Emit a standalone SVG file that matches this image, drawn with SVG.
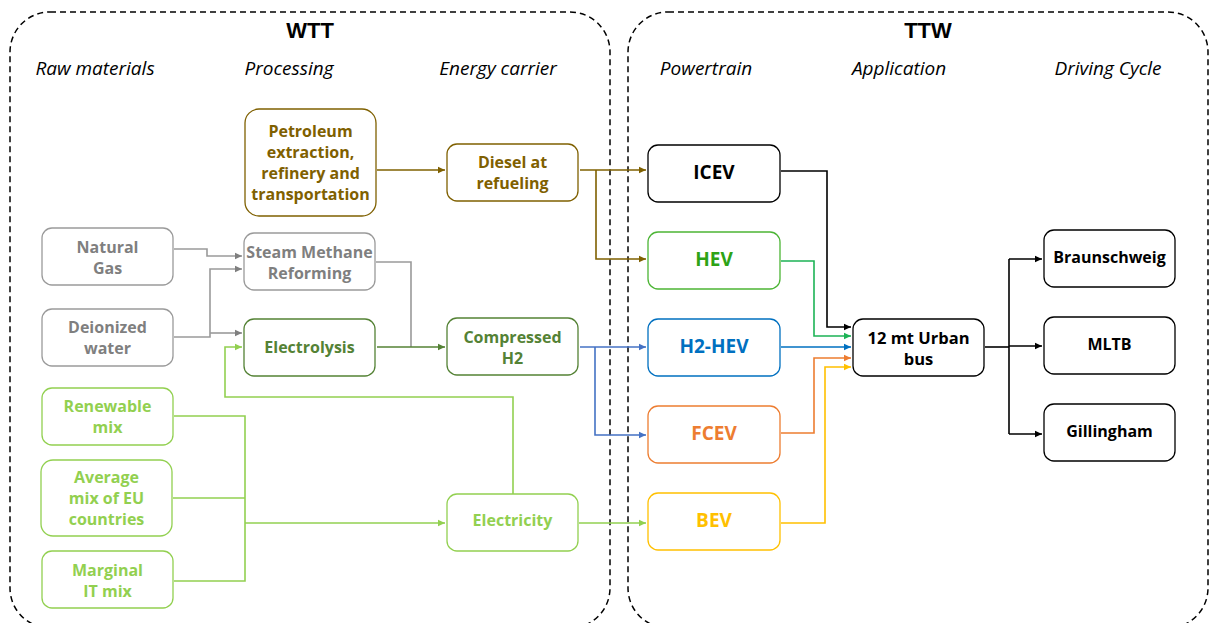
<svg xmlns="http://www.w3.org/2000/svg" width="1210" height="623" viewBox="0 0 1210 623">
<style>
.frame{fill:none;stroke:#000;stroke-width:1.5;stroke-dasharray:6 4}
.title{font-family:"Liberation Sans",Arial,sans-serif;font-weight:bold;font-size:22px;fill:#000;text-anchor:middle}
.hdr{font-family:"Open Sans","Noto Sans",sans-serif;font-style:italic;font-size:19px;fill:#000;text-anchor:middle}
.box{fill:#fff;stroke-width:1.3}
.t{font-family:"Open Sans","Noto Sans",sans-serif;font-weight:bold;font-size:16px;text-anchor:middle;dominant-baseline:central}
.tb{font-size:19px}
.c{fill:none;stroke-width:1.6}
.brown{stroke:#7F6000}.fbrown{fill:#7F6000}
.grey{stroke:#9a9a9a}.fgrey{fill:#7F7F7F}
.dg{stroke:#548235}.fdg{fill:#548235}
.lg{stroke:#92D050}.flg{fill:#92D050}
.hev{stroke:#4CB535}.fhev{fill:#2EA316}
.blue{stroke:#0070C0}.fblue{fill:#0070C0}
.or{stroke:#ED7D31}.for{fill:#ED7D31}
.yl{stroke:#FFC000}.fyl{fill:#FFC000}
.bk{stroke:#000}.fbk{fill:#000}
</style>
<defs>
<marker id="aBrown" markerWidth="8" markerHeight="8" refX="7" refY="4" orient="auto" markerUnits="userSpaceOnUse"><path d="M0,0.8 L7,4 L0,7.2z" fill="#7F6000"/></marker>
<marker id="aGrey" markerWidth="8" markerHeight="8" refX="7" refY="4" orient="auto" markerUnits="userSpaceOnUse"><path d="M0,0.8 L7,4 L0,7.2z" fill="#7F7F7F"/></marker>
<marker id="aDg" markerWidth="8" markerHeight="8" refX="7" refY="4" orient="auto" markerUnits="userSpaceOnUse"><path d="M0,0.8 L7,4 L0,7.2z" fill="#548235"/></marker>
<marker id="aLg" markerWidth="8" markerHeight="8" refX="7" refY="4" orient="auto" markerUnits="userSpaceOnUse"><path d="M0,0.8 L7,4 L0,7.2z" fill="#92D050"/></marker>
<marker id="aBlue" markerWidth="8" markerHeight="8" refX="7" refY="4" orient="auto" markerUnits="userSpaceOnUse"><path d="M0,0.8 L7,4 L0,7.2z" fill="#4472C4"/></marker>
<marker id="aBlue2" markerWidth="8" markerHeight="8" refX="7" refY="4" orient="auto" markerUnits="userSpaceOnUse"><path d="M0,0.8 L7,4 L0,7.2z" fill="#0070C0"/></marker>
<marker id="aGreen" markerWidth="8" markerHeight="8" refX="7" refY="4" orient="auto" markerUnits="userSpaceOnUse"><path d="M0,0.8 L7,4 L0,7.2z" fill="#1DB356"/></marker>
<marker id="aOr" markerWidth="8" markerHeight="8" refX="7" refY="4" orient="auto" markerUnits="userSpaceOnUse"><path d="M0,0.8 L7,4 L0,7.2z" fill="#ED7D31"/></marker>
<marker id="aYl" markerWidth="8" markerHeight="8" refX="7" refY="4" orient="auto" markerUnits="userSpaceOnUse"><path d="M0,0.8 L7,4 L0,7.2z" fill="#FFC000"/></marker>
<marker id="aBk" markerWidth="8" markerHeight="8" refX="7" refY="4" orient="auto" markerUnits="userSpaceOnUse"><path d="M0,0.8 L7,4 L0,7.2z" fill="#000"/></marker>
</defs>
<rect width="1210" height="623" fill="#fff"/>

<g id="frames">
<rect class="frame" x="10" y="12" width="600" height="616" rx="40"/>
<rect class="frame" x="628" y="12" width="580" height="616" rx="40"/>
<text class="title" x="310" y="38">WTT</text>
<text class="title" x="928" y="38">TTW</text>
<text class="hdr" x="95" y="75">Raw materials</text>
<text class="hdr" x="289" y="75">Processing</text>
<text class="hdr" x="498" y="75">Energy carrier</text>
<text class="hdr" x="706" y="75">Powertrain</text>
<text class="hdr" x="899" y="75">Application</text>
<text class="hdr" x="1108" y="75">Driving Cycle</text>
</g>

<g id="connectors">
<path class="c brown" d="M377,170 H445" marker-end="url(#aBrown)"/>
<path class="c brown" d="M580,170 H646" marker-end="url(#aBrown)"/>
<path class="c brown" d="M596,170 V259 H646" marker-end="url(#aBrown)"/>
<path class="c grey" d="M174,249 H207 V256 H242" marker-end="url(#aGrey)"/>
<path class="c grey" d="M174,337 H210 V269 H242" marker-end="url(#aGrey)"/>
<path class="c grey" d="M210,333 H242" marker-end="url(#aGrey)"/>
<path class="c grey" d="M376,262 H411 V347"/>
<path class="c dg" d="M377,347 H445" marker-end="url(#aDg)"/>
<path class="c lg" d="M513,494 V397 H225 V347 H242" marker-end="url(#aLg)"/>
<path class="c lg" d="M174,416 H245 V581 H174"/>
<path class="c lg" d="M173,498 H245"/>
<path class="c lg" d="M245,523 H445" marker-end="url(#aLg)"/>
<path class="c lg" d="M579,523 H646" marker-end="url(#aLg)"/>
<path class="c" stroke="#4472C4" d="M580,347 H646" marker-end="url(#aBlue)"/>
<path class="c" stroke="#4472C4" d="M595,347 V435 H646" marker-end="url(#aBlue)"/>
<path class="c bk" d="M781,171 H827 V327 H851" marker-end="url(#aBk)"/>
<path class="c" stroke="#1DB356" d="M781,261 H814 V336 H851" marker-end="url(#aGreen)"/>
<path class="c blue" d="M781,347 H851" marker-end="url(#aBlue2)"/>
<path class="c or" d="M781,433 H814 V358 H851" marker-end="url(#aOr)"/>
<path class="c yl" d="M781,523 H825 V367 H851" marker-end="url(#aYl)"/>
<path class="c bk" d="M985,347 H1009"/>
<path class="c bk" d="M1009,259 V434"/>
<path class="c bk" d="M1009,259 H1042" marker-end="url(#aBk)"/>
<path class="c bk" d="M1009,346 H1042" marker-end="url(#aBk)"/>
<path class="c bk" d="M1009,434 H1042" marker-end="url(#aBk)"/>
</g>

<g id="petroleum"><rect class="box brown" x="245" y="109" width="131" height="107" rx="14"/>
<text class="t fbrown" x="310.5"><tspan x="310.5" y="131">Petroleum</tspan><tspan x="310.5" y="152">extraction,</tspan><tspan x="310.5" y="173">refinery and</tspan><tspan x="310.5" y="194">transportation</tspan></text></g>
<g id="diesel"><rect class="box brown" x="447" y="144" width="131" height="57" rx="10"/>
<text class="t fbrown"><tspan x="512.5" y="162">Diesel at</tspan><tspan x="512.5" y="183">refueling</tspan></text></g>
<g id="natural-gas"><rect class="box grey" x="42" y="228" width="131" height="57" rx="10"/>
<text class="t fgrey"><tspan x="107.5" y="247">Natural</tspan><tspan x="107.5" y="268">Gas</tspan></text></g>
<g id="smr"><rect class="box grey" x="244" y="233" width="131" height="57" rx="10"/>
<text class="t fgrey"><tspan x="309.5" y="252">Steam Methane</tspan><tspan x="309.5" y="273">Reforming</tspan></text></g>
<g id="deionized-water"><rect class="box grey" x="42" y="309" width="131" height="57" rx="10"/>
<text class="t fgrey"><tspan x="107.5" y="327">Deionized</tspan><tspan x="107.5" y="348">water</tspan></text></g>
<g id="electrolysis"><rect class="box dg" x="244" y="319" width="131" height="57" rx="10"/>
<text class="t fdg" x="309.5" y="347">Electrolysis</text></g>
<g id="compressed-h2"><rect class="box dg" x="447" y="318" width="131" height="57" rx="10"/>
<text class="t fdg"><tspan x="512.5" y="337">Compressed</tspan><tspan x="512.5" y="358">H2</tspan></text></g>
<g id="renewable"><rect class="box lg" x="42" y="388" width="131" height="57" rx="10"/>
<text class="t flg"><tspan x="107.5" y="406">Renewable</tspan><tspan x="107.5" y="427">mix</tspan></text></g>
<g id="average-eu"><rect class="box lg" x="41" y="460" width="131" height="76" rx="12"/>
<text class="t flg"><tspan x="106.5" y="477">Average</tspan><tspan x="106.5" y="498">mix of EU</tspan><tspan x="106.5" y="519">countries</tspan></text></g>
<g id="marginal-it"><rect class="box lg" x="42" y="551" width="131" height="57" rx="10"/>
<text class="t flg"><tspan x="107.5" y="570">Marginal</tspan><tspan x="107.5" y="591">IT mix</tspan></text></g>
<g id="electricity"><rect class="box lg" x="447" y="494" width="131" height="57" rx="10"/>
<text class="t flg" x="512.5" y="520">Electricity</text></g>

<g id="icev"><rect class="box bk" x="648" y="145" width="132" height="57" rx="10"/>
<text class="t tb fbk" x="714" y="172">ICEV</text></g>
<g id="hev"><rect class="box hev" x="648" y="232" width="132" height="57" rx="10"/>
<text class="t tb fhev" x="714" y="259">HEV</text></g>
<g id="h2-hev"><rect class="box blue" x="648" y="319" width="132" height="57" rx="10"/>
<text class="t tb fblue" x="714" y="346">H2-HEV</text></g>
<g id="fcev"><rect class="box or" x="648" y="406" width="132" height="57" rx="10"/>
<text class="t tb for" x="714" y="433">FCEV</text></g>
<g id="bev"><rect class="box yl" x="648" y="493" width="132" height="57" rx="10"/>
<text class="t tb fyl" x="714" y="520">BEV</text></g>
<g id="bus"><rect class="box bk" x="853" y="319" width="131" height="57" rx="10"/>
<text class="t fbk" style="font-size:16.5px"><tspan x="918.5" y="337">12 mt Urban</tspan><tspan x="918.5" y="358">bus</tspan></text></g>
<g id="braunschweig"><rect class="box bk" x="1044" y="230" width="131" height="57" rx="10"/>
<text class="t fbk" x="1109.5" y="257">Braunschweig</text></g>
<g id="mltb"><rect class="box bk" x="1044" y="317" width="131" height="57" rx="10"/>
<text class="t fbk" x="1109.5" y="344">MLTB</text></g>
<g id="gillingham"><rect class="box bk" x="1044" y="404" width="131" height="57" rx="10"/>
<text class="t fbk" x="1109.5" y="431">Gillingham</text></g>
</svg>
